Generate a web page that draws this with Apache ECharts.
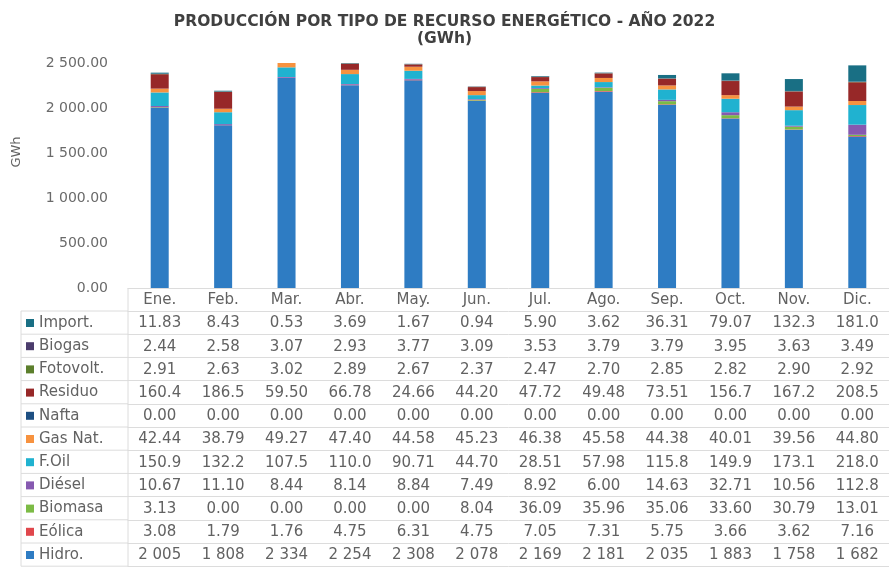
<!DOCTYPE html>
<html><head><meta charset="utf-8">
<script src="https://cdn.jsdelivr.net/npm/echarts@6/dist/echarts.min.js"></script>
<style>html,body{margin:0;padding:0;background:#fff}#c{width:889px;height:567px}</style>
</head><body><div id="c"></div>
<script>
const months = ['Ene.','Feb.','Mar.','Abr.','May.','Jun.','Jul.','Ago.','Sep.','Oct.','Nov.','Dic.'];
const hidro    = [2005,1808,2334,2254,2308,2078,2169,2181,2035,1883,1758,1682];
const eolica   = [3.08,1.79,1.76,4.75,6.31,4.75,7.05,7.31,5.75,3.66,3.62,7.16];
const biomasa  = [3.13,0,0,0,0,8.04,36.09,35.96,35.06,33.60,30.79,13.01];
const diesel   = [10.67,11.10,8.44,8.14,8.84,7.49,8.92,6.00,14.63,32.71,10.56,112.8];
const foil     = [150.9,132.2,107.5,110.0,90.71,44.70,28.51,57.98,115.8,149.9,173.1,218.0];
const gasNat   = [42.44,38.79,49.27,47.40,44.58,45.23,46.38,45.58,44.38,40.01,39.56,44.80];
const nafta    = [0,0,0,0,0,0,0,0,0,0,0,0];
const residuo  = [160.4,186.5,59.50,66.78,24.66,44.20,47.72,49.48,73.51,156.7,167.2,208.5];
const fotovolt = [2.91,2.63,3.02,2.89,2.67,2.37,2.47,2.70,2.85,2.82,2.90,2.92];
const biogas   = [2.44,2.58,3.07,2.93,3.77,3.09,3.53,3.79,3.79,3.95,3.63,3.49];
const importe  = [11.83,8.43,0.53,3.69,1.67,0.94,5.90,3.62,36.31,79.07,132.3,181.0];
const yMin = 0, yMax = 2500, yStep = 500;

// stacking order bottom -> top
const seriesDefs = [
  ['Hidro.', hidro, '#2e7cc3'],
  ['Eólica', eolica, '#e0474c'],
  ['Biomasa', biomasa, '#7cbb45'],
  ['Diésel', diesel, '#8659b0'],
  ['F.Oil', foil, '#20b2d0'],
  ['Gas Nat.', gasNat, '#f7923f'],
  ['Nafta', nafta, '#1d4f82'],
  ['Residuo', residuo, '#972828'],
  ['Fotovolt.', fotovolt, '#5c7f2c'],
  ['Biogas', biogas, '#4b3c6c'],
  ['Import.', importe, '#196f84']
];
const tableRows = seriesDefs.slice().reverse(); // top -> bottom in the table

function thousands(n) {
  return String(n).replace(/\B(?=(\d{3})+(?!\d))/g, ' ');
}
function fmtCell(v) {
  if (v >= 1000) return thousands(Math.round(v));
  if (v >= 100) return v.toFixed(1);
  return v.toFixed(2);
}
function fmtAxis(v) {
  const parts = v.toFixed(2).split('.');
  return thousands(parts[0]) + '.' + parts[1];
}

const gridLeft = 128, gridTop = 63, gridH = 225, gridW = 764;
const axisY = gridTop + gridH;      // 288
const rowTop0 = 311, rowH = 23.2;
const labelCol = 21;
const txt = '#626262', lineC = '#dcdcdc';
const font = 'DejaVu Sans';

const xAxes = [{
  type: 'category', data: months, gridIndex: 0, position: 'bottom',
  axisLine: {show: true, lineStyle: {color: lineC}},
  axisTick: {show: false},
  axisLabel: {color: txt, fontSize: 15, margin: 5, fontFamily: font}
}];
tableRows.forEach((r, k) => {
  xAxes.push({
    type: 'category', data: months, gridIndex: 0, position: 'bottom',
    offset: (rowTop0 - axisY) + rowH * k,
    axisLine: {show: true, lineStyle: {color: lineC}},
    axisTick: {show: false},
    axisLabel: {color: txt, fontSize: 15, margin: 5, fontFamily: font,
      formatter: (val, i) => fmtCell(r[1][i])}
  });
});
xAxes.push({
  type: 'category', data: months, gridIndex: 0, position: 'bottom',
  offset: (rowTop0 - axisY) + rowH * tableRows.length,
  axisLine: {show: true, lineStyle: {color: lineC}},
  axisTick: {show: false}, axisLabel: {show: false}
});

const graphics = [];
for (let k = 0; k <= tableRows.length; k++) {
  const y = rowTop0 + rowH * k;
  graphics.push({type: 'line', shape: {x1: labelCol, y1: y, x2: gridLeft, y2: y},
    style: {stroke: lineC, lineWidth: 1}, silent: true});
}
const bottomY = rowTop0 + rowH * tableRows.length;
graphics.push({type: 'line', shape: {x1: labelCol, y1: rowTop0, x2: labelCol, y2: bottomY},
  style: {stroke: lineC, lineWidth: 1}, silent: true});
graphics.push({type: 'line', shape: {x1: gridLeft, y1: axisY, x2: gridLeft, y2: bottomY},
  style: {stroke: lineC, lineWidth: 1}, silent: true});
graphics.push({type: 'text', x: 17, y: 152, rotation: Math.PI / 2,
  style: {text: 'GWh', fill: txt, font: '13px "' + font + '"', align: 'center', verticalAlign: 'middle'},
  silent: true});

const chart = echarts.init(document.getElementById('c'), null, {renderer: 'canvas'});
chart.setOption({
  animation: false,
  backgroundColor: '#fff',
  textStyle: {fontFamily: font},
  title: {
    text: 'PRODUCCIÓN POR TIPO DE RECURSO ENERGÉTICO - AÑO 2022\n(GWh)',
    left: 'center', top: 8,
    textStyle: {fontSize: 15.5, fontWeight: 'bold', color: '#404040', lineHeight: 17, fontFamily: font, align: 'center'}
  },
  legend: {
    orient: 'vertical', left: 26, top: rowTop0 + 3.5, padding: 0,
    itemWidth: 8, itemHeight: 8, itemGap: rowH - 17, icon: 'rect',
    selectedMode: false,
    data: tableRows.map(r => r[0]),
    textStyle: {color: txt, fontSize: 15, lineHeight: 17, fontFamily: font}
  },
  grid: {left: gridLeft, top: gridTop, width: gridW, height: gridH, containLabel: false},
  xAxis: xAxes,
  yAxis: {
    type: 'value', min: yMin, max: yMax, interval: yStep,
    axisLine: {show: false}, axisTick: {show: false},
    splitLine: {show: false},
    axisLabel: {color: '#6a6a6a', fontSize: 14, margin: 20, fontFamily: font, formatter: fmtAxis}
  },
  series: seriesDefs.map(d => ({
    name: d[0], type: 'bar', stack: 'total', data: d[1], barWidth: 18,
    xAxisIndex: 0, itemStyle: {color: d[2]}
  })),
  graphic: graphics
});
</script>
</body></html>
